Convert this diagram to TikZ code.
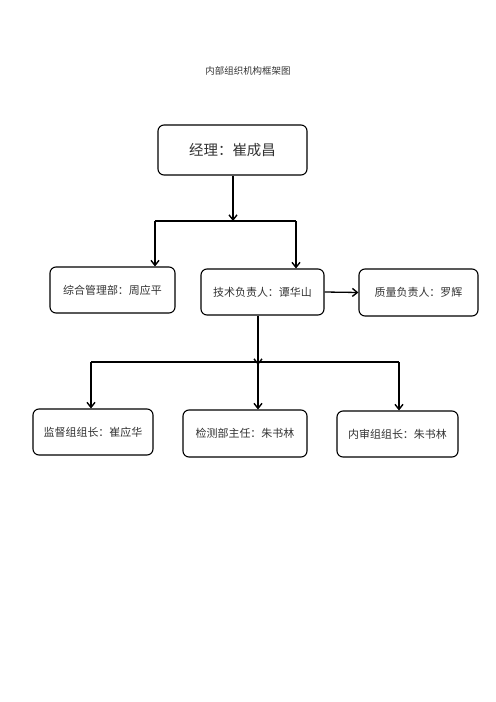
\documentclass[tikz,border=0pt]{standalone}
\usepackage{fontspec}
\newfontfamily\cjk{Noto Sans CJK SC}
\usetikzlibrary{arrows.meta}

\begin{document}
\begin{tikzpicture}[x=1bp,y=-1bp,box/.style={draw=black,fill=white,rounded corners=6bp,line width=1.1bp,align=center,minimum width=121bp,minimum height=46bp,inner sep=3pt,font=\cjk\fontsize{11}{13}\selectfont,text=black!80},arrow/.style={-{Straight Barb[length=5bp,width=8bp,line width=1.4bp]},line width=1.3bp,draw=black},link/.style={line width=1.1bp,draw=black}]
\useasboundingbox (0,0) rectangle (496,702);
\node[font=\cjk\fontsize{9.5}{11}\selectfont,text=black!80] (title) at (248,71) {内部组织机构框架图};
\node[box,minimum width=149bp,minimum height=50bp,font=\cjk\fontsize{14.5}{17}\selectfont] (n0) at (232.5,150) {经理：崔成昌};
\node[box,minimum width=125bp] (n1) at (112.5,290) {综合管理部：周应平};
\node[box,minimum width=123bp] (n2) at (262.5,292) {技术负责人：谭华山};
\node[box,minimum width=119bp,minimum height=47bp] (n3) at (418.5,292.5) {质量负责人：罗辉};
\node[box,minimum width=120bp] (n4) at (93,432) {监督组组长：崔应华};
\node[box,minimum width=124bp,minimum height=47bp] (n5) at (245,433.5) {检测部主任：朱书林};
\node[box,minimum width=121bp] (n6) at (397.5,434) {内审组组长：朱书林};
% first level branch
\coordinate (j0) at (233,221);
\coordinate (b1) at (155,221);
\coordinate (b2) at (296,221);
\draw[arrow] (n0.south -| j0) -- (j0);
\draw[link] (b1) -- (b2);
\draw[arrow] (b1) -- (b1 |- n1.north);
\draw[arrow] (b2) -- (b2 |- n2.north);
\draw[arrow] (n2.east) -- (n3.west);
% second level branch
\coordinate (j1) at (258,362);
\coordinate (c1) at (91,362);
\coordinate (c2) at (258,362);
\coordinate (c3) at (399,362);
\draw[arrow] (n2.south -| j1) -- ([yshift=-3bp]j1);
\draw[link] (c1) -- (c3);
\draw[arrow] (c1) -- (c1 |- n4.north);
\draw[arrow] (c2) -- (c2 |- n5.north);
\draw[arrow] (c3) -- (c3 |- n6.north);
\end{tikzpicture}
\end{document}
